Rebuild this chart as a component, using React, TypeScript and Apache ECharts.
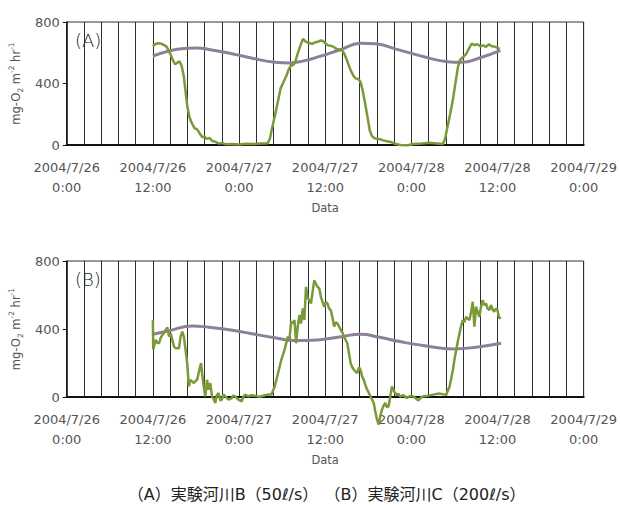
import React, { useEffect, useRef } from "react";
import * as echarts from "echarts";

// Hours elapsed since 2004/7/26 0:00
const xTickLabels = [
  "2004/7/26\n0:00",
  "2004/7/26\n12:00",
  "2004/7/27\n0:00",
  "2004/7/27\n12:00",
  "2004/7/28\n0:00",
  "2004/7/28\n12:00",
  "2004/7/29\n0:00",
];
const yTicks = [0, 400, 800];

// (A) 実験河川B — [hour, mg-O2 m-2 hr-1]
const productionA: [number, number][] = [
  [12.0, 640], [12.3, 655], [12.7, 662], [13.1, 660], [13.5, 652], [13.9, 640], [14.2, 615],
  [14.5, 585], [14.8, 550], [15.1, 525], [15.4, 535], [15.7, 545], [16.0, 515], [16.3, 450],
  [16.5, 370], [16.8, 250], [17.1, 180], [17.4, 145], [17.8, 110], [18.2, 100], [18.6, 70],
  [18.9, 50], [19.2, 55], [19.5, 40], [19.9, 45], [20.3, 25], [20.7, 22], [21.1, 10],
  [21.6, 12], [22.2, 5], [23.0, 6], [24.0, 4], [25.0, 8], [26.0, 6], [27.0, 9], [27.6, 10],
  [28.0, 12], [28.3, 40], [28.6, 110], [29.0, 190], [29.4, 280], [29.8, 370], [30.2, 410],
  [30.6, 450], [30.9, 490], [31.2, 515], [31.5, 520], [31.8, 535], [32.1, 585], [32.5, 640],
  [32.9, 690], [33.2, 675], [33.5, 668], [33.9, 662], [34.2, 658], [34.6, 668], [35.0, 672],
  [35.4, 680], [35.7, 676], [36.0, 662], [36.4, 648], [36.8, 645], [37.2, 638], [37.6, 625],
  [38.0, 620], [38.4, 612], [38.7, 590], [39.0, 555], [39.3, 515], [39.6, 480], [40.0, 445],
  [40.3, 432], [40.6, 430], [40.9, 412], [41.2, 360], [41.6, 260], [41.9, 180], [42.2, 95],
  [42.5, 60], [42.8, 45], [43.2, 40], [43.6, 38], [44.1, 30], [44.6, 25], [45.1, 20],
  [45.6, 10], [46.0, 5], [46.5, 0], [47.5, -2], [48.3, 6], [49.5, 10], [50.5, 14], [51.5, 10],
  [52.4, 6], [52.7, 40], [53.0, 110], [53.4, 200], [53.8, 300], [54.2, 420], [54.5, 510],
  [54.8, 555], [55.2, 572], [55.6, 590], [56.0, 625], [56.4, 660], [56.8, 650], [57.2, 655],
  [57.6, 642], [58.0, 648], [58.4, 638], [58.8, 655], [59.2, 642], [59.6, 640], [60.0, 632],
  [60.3, 625],
];
const respirationA: [number, number][] = [
  [12, 579], [14, 608], [16, 626], [18, 631], [20, 620], [23, 594], [26, 563], [29, 538],
  [31, 534], [33, 547], [35, 573], [38, 618], [41, 662], [43, 658], [46, 622], [50, 571],
  [53, 542], [55, 538], [57.5, 566], [60.4, 616],
];

// (B) 実験河川C — [hour, mg-O2 m-2 hr-1]
const productionB: [number, number][] = [
  [12.0, 453], [12.05, 280], [12.4, 336], [12.6, 320], [12.87, 316], [13.1, 350], [13.33, 365],
  [13.6, 380], [13.79, 394], [14.02, 410], [14.25, 355], [14.48, 375], [14.71, 336],
  [14.94, 297], [15.17, 287], [15.63, 287], [15.86, 355], [16.09, 384], [16.32, 355],
  [16.55, 277], [16.78, 199], [17.01, 62], [17.24, 101], [17.5, 90], [17.7, 82], [17.95, 95],
  [18.16, 101], [18.48, 160], [18.71, 199], [18.85, 140], [19.08, 62], [19.31, 4], [19.54, 101],
  [19.77, 43], [20.0, 82], [20.23, 4], [20.45, -10], [20.69, -35], [20.9, 10], [21.15, 23],
  [21.4, -20], [21.61, -16], [21.85, 15], [22.07, 4], [22.3, -5], [22.53, -16], [22.99, -6],
  [23.2, 8], [23.45, 4], [23.91, -16], [24.37, -25], [24.6, 0], [24.83, 14], [25.29, 4],
  [25.7, 10], [26.21, 8], [26.7, 2], [27.13, 4], [27.6, 10], [28.05, 14], [28.51, 14],
  [28.97, 62], [29.43, 140], [29.89, 219], [30.34, 277], [30.8, 355], [31.0, 330], [31.26, 443],
  [31.49, 433], [31.72, 453], [31.95, 316], [32.18, 414], [32.41, 482], [32.64, 433],
  [32.87, 521], [33.1, 453], [33.33, 648], [33.56, 580], [33.8, 570], [34.02, 550], [34.25, 620],
  [34.48, 687], [34.7, 665], [34.94, 648], [35.17, 640], [35.4, 589], [35.63, 560], [35.86, 531],
  [36.1, 560], [36.32, 550], [36.55, 520], [36.78, 511], [37.0, 470], [37.24, 414], [37.47, 440],
  [37.7, 433], [37.93, 415], [38.16, 394], [38.4, 380], [38.62, 355], [38.85, 335], [39.08, 316],
  [39.3, 260], [39.54, 199], [39.77, 175], [40.0, 160], [40.23, 150], [40.46, 140], [40.7, 175],
  [40.92, 160], [41.15, 120], [41.38, 101], [41.6, 70], [41.84, 43], [42.07, 25], [42.3, 4],
  [42.53, -15], [42.76, -35], [43.0, -90], [43.2, -130], [43.45, -162], [43.68, -110],
  [43.91, -74], [44.14, -50], [44.37, -35], [44.6, -60], [44.83, -55], [45.06, 0], [45.29, 62],
  [45.52, 40], [45.75, 23], [46.0, 10], [46.2, 20], [46.44, 4], [46.9, 10], [47.36, -6],
  [47.8, 6], [48.28, 4], [48.6, -8], [48.97, -20], [49.3, -5], [49.66, 4], [50.3, 8],
  [51.03, 14], [51.5, 18], [51.95, 20], [52.4, 16], [52.87, 14], [53.1, 40], [53.33, 62],
  [53.56, 110], [53.79, 160], [54.0, 220], [54.25, 277], [54.48, 330], [54.71, 375],
  [54.94, 420], [55.17, 453], [55.4, 440], [55.63, 472], [55.86, 460], [56.09, 453],
  [56.32, 500], [56.55, 560], [56.78, 414], [57.01, 531], [57.24, 500], [57.47, 472],
  [57.7, 530], [57.93, 570], [58.16, 540], [58.39, 550], [58.62, 520], [58.85, 511],
  [59.08, 541], [59.31, 515], [59.54, 502], [59.77, 520], [60.0, 511], [60.23, 462],
  [60.46, 470],
];
const respirationB: [number, number][] = [
  [12, 369], [14.25, 390], [17.5, 418], [19.8, 410], [23.5, 390], [26.2, 369], [29, 349],
  [31.7, 332], [34.9, 336], [38.2, 355], [40.9, 369], [43.6, 351], [46.4, 326], [50.1, 300],
  [53.8, 283], [57, 293], [60.5, 316],
];

const panelLabels = ["(A)", "(B)"];
const captionParts = ["（A）実験河川B（50ℓ/s）", "（B）実験河川C（200ℓ/s）"];

// Wide latin face, CJK glyphs fall back to Noto Sans CJK JP
const FONT = "'DejaVu Sans', 'Noto Sans CJK JP', sans-serif";
const GREEN = "#7a9a3a";
const PURPLE = "#8d8098";
const TEXT = "#555";

const panels = [
  { top: 22, height: 123, production: productionA, respiration: respirationA },
  { top: 261, height: 136, production: productionB, respiration: respirationB },
];

function xLabel(v: number): string {
  const k = v / 12;
  const r = Math.round(k);
  return Math.abs(k - r) < 1e-6 && xTickLabels[r] !== undefined ? xTickLabels[r] : "";
}

export default function App() {
  const ref = useRef<HTMLDivElement>(null);

  useEffect(() => {
    if (!ref.current) return;
    const chart = echarts.init(ref.current, undefined, { renderer: "svg" });

    const option: any = {
      animation: false,
      textStyle: { fontFamily: FONT },
      grid: panels.map((p) => ({
        left: 63,
        right: 35,
        top: p.top,
        height: p.height,
        show: true,
        borderColor: "#333",
        borderWidth: 1,
      })),
      xAxis: panels.map((_, i) => ({
        type: "value",
        gridIndex: i,
        min: 0,
        max: 72,
        interval: 2.4,
        axisLine: { show: true, onZero: false, lineStyle: { color: "#111", width: 2 } },
        axisTick: { show: false },
        splitLine: { show: true, lineStyle: { color: "#2e2e2e", width: 1 } },
        axisLabel: {
          formatter: xLabel,
          color: TEXT,
          fontSize: 13,
          lineHeight: 20,
          margin: 12,
          fontFamily: FONT,
          showMinLabel: true,
          showMaxLabel: true,
          hideOverlap: false,
        },
        name: "Data",
        nameLocation: "middle",
        nameGap: 57,
        nameTextStyle: { color: TEXT, fontSize: 11.5, fontFamily: FONT },
      })),
      yAxis: panels.map((_, i) => ({
        type: "value",
        gridIndex: i,
        min: yTicks[0],
        max: yTicks[yTicks.length - 1],
        interval: yTicks[1] - yTicks[0],
        axisLine: { show: true, lineStyle: { color: "#111", width: 1.5 } },
        axisTick: { show: true, length: 4, lineStyle: { color: "#111" } },
        splitLine: { show: false },
        axisLabel: { color: TEXT, fontSize: 13, margin: 7, fontFamily: FONT },
        name: "{a|mg-O}{s|2}{a| m}{p|-2}{a| hr}{p|-1}",
        nameLocation: "middle",
        nameGap: 36,
        nameTextStyle: {
          color: TEXT,
          fontFamily: FONT,
          rich: {
            a: { fontSize: 11.5, color: TEXT, lineHeight: 16, fontFamily: FONT },
            s: { fontSize: 7.5, color: TEXT, verticalAlign: "bottom", fontFamily: FONT },
            p: { fontSize: 7.5, color: TEXT, verticalAlign: "top", fontFamily: FONT },
          },
        },
      })),
      series: panels.flatMap((p, i) => [
        {
          type: "line",
          xAxisIndex: i,
          yAxisIndex: i,
          data: p.respiration,
          smooth: true,
          showSymbol: false,
          clip: false,
          lineStyle: { color: PURPLE, width: 3 },
        },
        {
          type: "line",
          xAxisIndex: i,
          yAxisIndex: i,
          data: p.production,
          showSymbol: false,
          clip: false,
          lineStyle: { color: GREEN, width: 2.5 },
        },
      ]),
      graphic: [
        ...panels.map((p, i) => ({
          type: "text",
          left: 75,
          top: p.top + 9,
          style: {
            text: panelLabels[i],
            fill: "#222",
            fontSize: 18,
            fontWeight: 200,
            fontFamily: FONT,
          },
        })),
        ...captionParts.map((t, i) => ({
          type: "text",
          x: i === 0 ? 223 : 425,
          y: 494,
          style: {
            text: t,
            fill: "#222",
            fontSize: 16,
            fontFamily: FONT,
            align: "center",
            verticalAlign: "middle",
            textAlign: "center",
            textVerticalAlign: "middle",
          },
        })),
      ],
    };

    chart.setOption(option);
    return () => chart.dispose();
  }, []);

  // Pinned to the page corner so the body's default margin does not shift the chart
  return (
    <div
      ref={ref}
      style={{ position: "absolute", left: 0, top: 0, width: 620, height: 505 }}
    />
  );
}
